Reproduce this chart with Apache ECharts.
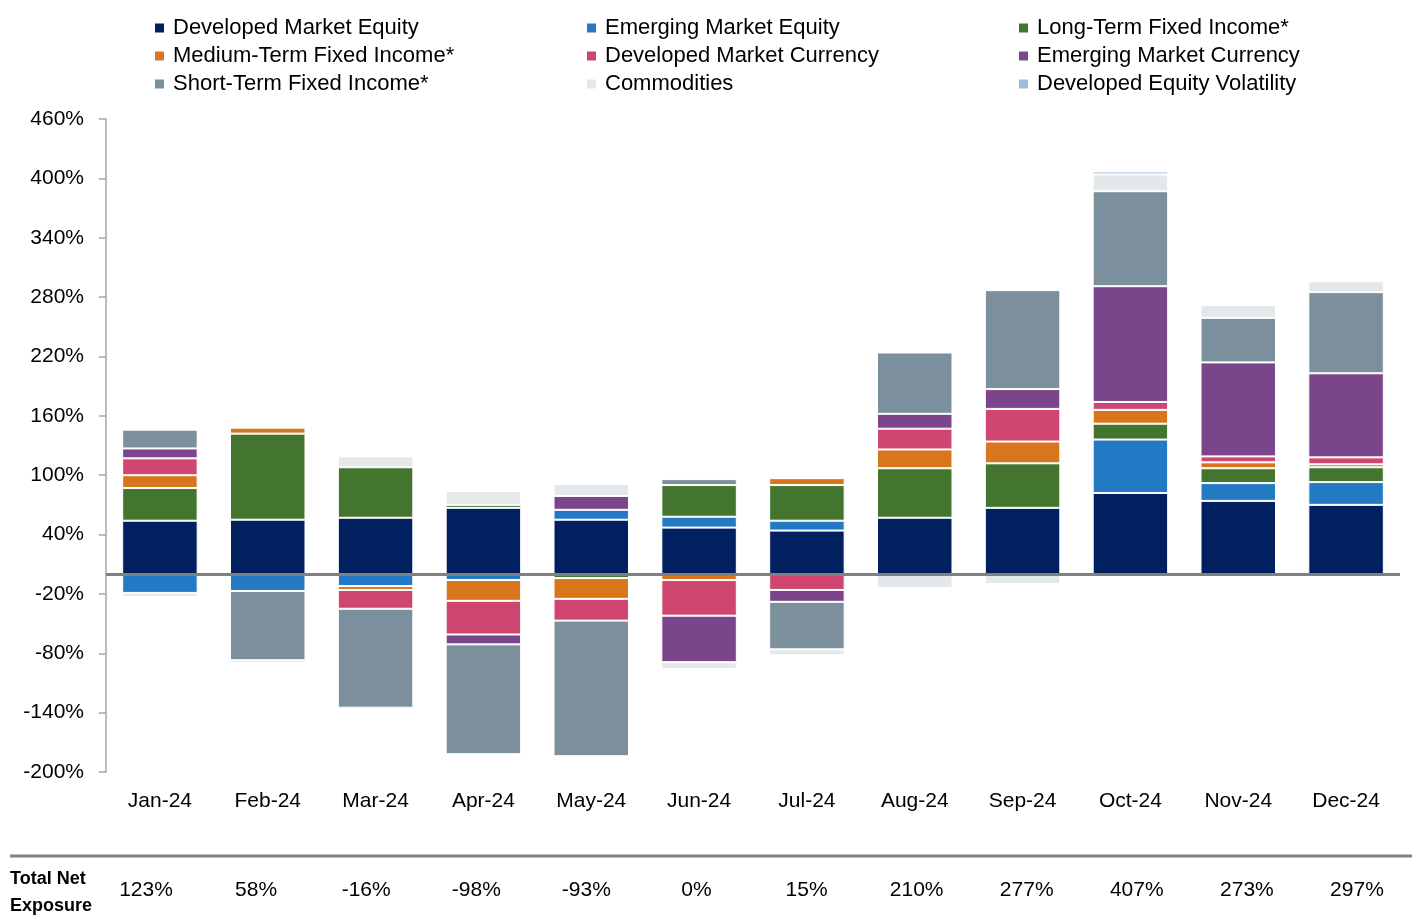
<!DOCTYPE html>
<html>
<head>
<meta charset="utf-8">
<script src="https://cdn.jsdelivr.net/npm/echarts@6/dist/echarts.min.js"></script>
<style>
  html, body { margin: 0; padding: 0; background: #fff; }
  #chart { width: 1412px; height: 916px; }
</style>
</head>
<body>
<div id="chart"></div>
<script>
var months = ['Jan-24', 'Feb-24', 'Mar-24', 'Apr-24', 'May-24', 'Jun-24', 'Jul-24', 'Aug-24', 'Sep-24', 'Oct-24', 'Nov-24', 'Dec-24'];
var yTicks = { min: -200, max: 460, step: 60 };

// exposure by asset class, % of NAV
var devMktEquity   = [54, 55, 57, 67, 55, 47, 44, 57, 67, 82, 74, 70];
var emMktEquity    = [-19, -17, -12, -6, 10, 11, 10, 0, 0, 54, 18, 23];
var longTermFI     = [33, 87, 51, 3, -4, 32, 36, 50, 45, 16, 15, 15];
var mediumTermFI   = [13, 6, -4, -21, -21, -6, 7, 19, 22, 14, 6, 3];
var devMktCurrency = [17, 0, -19, -34, -22, -36, -16, 21, 33, 8, 6, 7];
var emMktCurrency  = [10, 0, 0, -10, 14, -47, -12, 15, 20, 117, 95, 85];
var shortTermFI    = [19, -70, -100, -111, -137, 6, -48, 62, 100, 96, 45, 82];
var commodities    = [-4, -3, 11, 14, 12, -7, -6, -14, -10, 17, 13, 11];
var devEquityVol   = [0, 0, 0, 0, 0, 0, 0, 0, 0, 3, 1, 1];

var totalNet = [123, 58, -16, -98, -93, 0, 15, 210, 277, 407, 273, 297];

// narrow face is not there, Liberation Sans at a smaller size is the closest width
var FONT = "'Liberation Sans Narrow', 'Arial Narrow', 'Liberation Sans', Arial, sans-serif";

var seriesDefs = [
  { name: 'Developed Market Equity', data: devMktEquity, color: '#002060' },
  { name: 'Emerging Market Equity', data: emMktEquity, color: '#2479c4' },
  { name: 'Long-Term Fixed Income*', data: longTermFI, color: '#43752f' },
  { name: 'Medium-Term Fixed Income*', data: mediumTermFI, color: '#d8761b' },
  { name: 'Developed Market Currency', data: devMktCurrency, color: '#cf4770' },
  { name: 'Emerging Market Currency', data: emMktCurrency, color: '#7a458b' },
  { name: 'Short-Term Fixed Income*', data: shortTermFI, color: '#7b8f9d' },
  { name: 'Commodities', data: commodities, color: '#e3e8eb' },
  { name: 'Developed Equity Volatility', data: devEquityVol, color: '#9fbcdc' }
];

var series = seriesDefs.map(function (s, i) {
  var item = {
    name: s.name,
    type: 'bar',
    stack: 'total',
    barCategoryGap: '30%',
    data: s.data.map(function (v) { return v === 0 ? '-' : v; }),
    itemStyle: { color: s.color, borderColor: '#fff', borderWidth: 1 },
    emphasis: { disabled: true }
  };
  if (i === 0) {
    item.markLine = {
      silent: true,
      symbol: 'none',
      label: { show: false },
      lineStyle: { color: '#808080', width: 3, type: 'solid' },
      data: [{ yAxis: 0 }]
    };
  }
  return item;
});

function legendCol(left, names) {
  return {
    orient: 'vertical',
    left: left,
    top: 17,
    padding: 0,
    itemWidth: 11,
    itemHeight: 11,
    itemGap: 6,
    icon: 'rect',
    selectedMode: false,
    textStyle: { fontFamily: FONT, fontSize: 22, color: '#000', padding: [0, 0, 0, 3] },
    data: names
  };
}

var chart = echarts.init(document.getElementById('chart'));
chart.setOption({
  animation: false,
  backgroundColor: '#fff',
  legend: [
    legendCol(153, [seriesDefs[0].name, seriesDefs[3].name, seriesDefs[6].name]),
    legendCol(585, [seriesDefs[1].name, seriesDefs[4].name, seriesDefs[7].name]),
    legendCol(1017, [seriesDefs[2].name, seriesDefs[5].name, seriesDefs[8].name])
  ],
  grid: [
    { left: 106, right: 12, top: 119, bottom: 144 },
    { left: 91, right: -10, top: 880, height: 10 }
  ],
  xAxis: [
    {
      type: 'category',
      data: months,
      axisLine: { show: false },
      axisTick: { show: false },
      axisLabel: { fontFamily: FONT, fontSize: 21, color: '#000', margin: 19 }
    },
    {
      type: 'category',
      gridIndex: 1,
      data: totalNet.map(function (v) { return v + '%'; }),
      axisLine: { show: false },
      axisTick: { show: false },
      axisLabel: { fontFamily: FONT, fontSize: 21, color: '#000', margin: 0, verticalAlign: 'middle' }
    }
  ],
  yAxis: [
    {
      type: 'value',
      min: yTicks.min,
      max: yTicks.max,
      interval: yTicks.step,
      splitLine: { show: false },
      axisLine: { show: true, lineStyle: { color: '#a6a6a6', width: 1.5 } },
      axisTick: { show: true, length: 7, lineStyle: { color: '#a6a6a6', width: 1.5 } },
      axisLabel: { fontFamily: FONT, fontSize: 21, color: '#000', margin: 22, formatter: '{value}%' }
    },
    { type: 'value', gridIndex: 1, show: false }
  ],
  graphic: [
    {
      type: 'line',
      shape: { x1: 10, y1: 856, x2: 1412, y2: 856 },
      style: { stroke: '#808080', lineWidth: 3 }
    },
    {
      type: 'text',
      left: 10,
      top: 866,
      style: {
        text: 'Total Net\nExposure',
        font: 'bold 18px ' + FONT,
        lineHeight: 27,
        fill: '#000'
      }
    }
  ],
  series: series
});
</script>
</body>
</html>
